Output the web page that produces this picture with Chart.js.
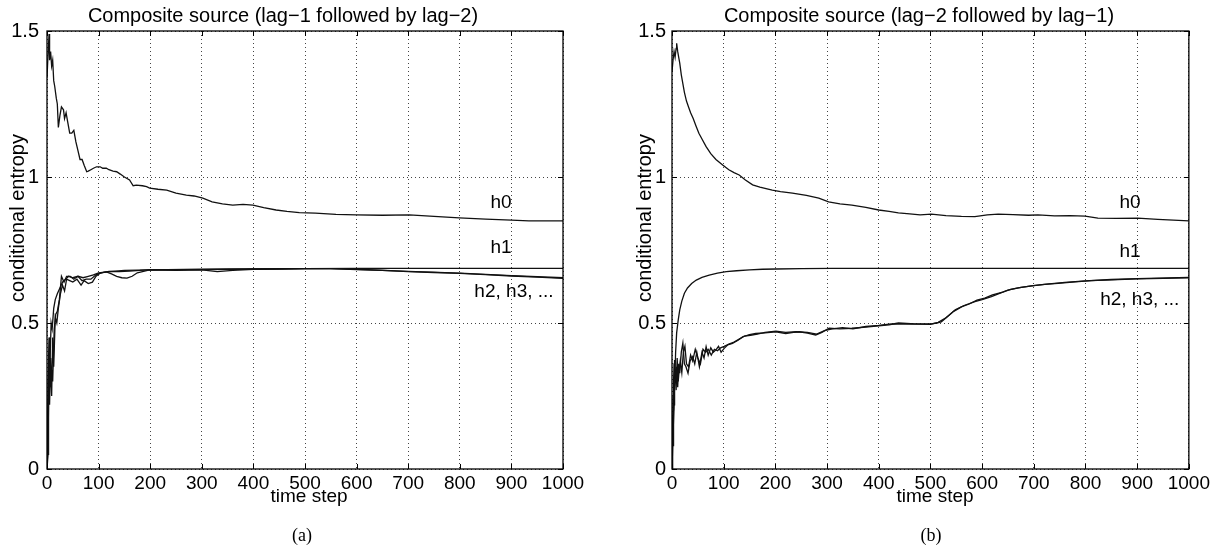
<!DOCTYPE html>
<html>
<head>
<meta charset="utf-8">
<script src="https://cdn.jsdelivr.net/npm/chart.js@4.4.0/dist/chart.umd.min.js"></script>
<style>
  html, body { margin: 0; padding: 0; background: #fff; }
  #wrap { position: relative; width: 1213px; height: 550px; }
  .panel { position: absolute; top: 0; height: 550px; }
  #panelA { left: 0; width: 606px; }
  #panelB { left: 606px; width: 607px; }
</style>
</head>
<body>
<div id="wrap">
  <div class="panel" id="panelA"><canvas id="chartA" width="606" height="550"></canvas></div>
  <div class="panel" id="panelB"><canvas id="chartB" width="607" height="550"></canvas></div>
</div>
<script>
// Tick values and labels
const xTickValues = [0, 100, 200, 300, 400, 500, 600, 700, 800, 900, 1000];
const yTickValues = [0, 0.5, 1, 1.5];
const yTickLabels = ['0', '0.5', '1', '1.5'];

// (a) lag-1 followed by lag-2
const leftH0Steps = [0, 2, 4, 5, 7, 9, 11, 13, 15, 18, 20, 22, 25, 28, 32, 34, 37, 40, 44, 48, 52, 56, 60, 64, 68, 72, 77, 80, 85, 90, 96, 103, 108, 115, 120, 128, 135, 142, 150, 160, 167, 173, 185, 193, 199, 215, 232, 250, 270, 285, 302, 320, 340, 360, 380, 399, 420, 444, 465, 489, 520, 560, 599, 650, 702, 750, 799, 850, 900, 934, 970, 1000];
const leftH0 = [1.34, 1.42, 1.49, 1.40, 1.43, 1.38, 1.40, 1.33, 1.31, 1.27, 1.25, 1.17, 1.21, 1.24, 1.23, 1.20, 1.22, 1.19, 1.15, 1.15, 1.16, 1.12, 1.09, 1.06, 1.06, 1.04, 1.018, 1.02, 1.025, 1.03, 1.035, 1.035, 1.03, 1.03, 1.025, 1.02, 1.018, 1.01, 1.0, 0.99, 0.97, 0.972, 0.97, 0.967, 0.962, 0.958, 0.955, 0.945, 0.938, 0.935, 0.928, 0.915, 0.908, 0.904, 0.906, 0.904, 0.895, 0.887, 0.882, 0.878, 0.876, 0.872, 0.870, 0.869, 0.870, 0.865, 0.860, 0.856, 0.852, 0.850, 0.850, 0.850];

const leftH1Steps = [0, 2, 4, 6, 8, 10, 13, 16, 20, 25, 30, 36, 42, 50, 60, 70, 80, 90, 100, 120, 150, 200, 300, 400, 500, 600, 700, 800, 900, 1000];
const leftH1 = [0.0, 0.30, 0.45, 0.38, 0.50, 0.48, 0.55, 0.58, 0.60, 0.62, 0.64, 0.65, 0.66, 0.655, 0.66, 0.655, 0.66, 0.665, 0.672, 0.676, 0.680, 0.682, 0.684, 0.685, 0.686, 0.687, 0.687, 0.687, 0.687, 0.687];

const leftH2Steps = [0, 2, 4, 5, 7, 9, 11, 13, 16, 19, 22, 26, 30, 34, 38, 44, 50, 58, 66, 72, 80, 88, 95, 103, 115, 125, 135, 145, 155, 165, 175, 185, 199, 250, 300, 330, 360, 400, 450, 500, 550, 600, 650, 700, 750, 800, 850, 900, 950, 1000];
const leftH2 = [0.0, 0.10, 0.35, 0.22, 0.38, 0.25, 0.45, 0.35, 0.52, 0.50, 0.55, 0.60, 0.63, 0.61, 0.65, 0.645, 0.64, 0.65, 0.63, 0.645, 0.635, 0.64, 0.66, 0.671, 0.675, 0.668, 0.66, 0.655, 0.654, 0.660, 0.672, 0.676, 0.682, 0.680, 0.682, 0.676, 0.680, 0.684, 0.685, 0.686, 0.686, 0.683, 0.680, 0.676, 0.673, 0.670, 0.666, 0.661, 0.657, 0.653];

const leftH3Steps = [0, 2, 3, 5, 7, 9, 11, 14, 17, 20, 24, 28, 33, 38, 45, 52, 60, 68, 76, 85, 95, 105, 120, 140, 160, 180, 200, 250, 300, 350, 400, 500, 550, 600, 700, 800, 900, 1000];
const leftH3 = [0.0, 0.05, 0.30, 0.45, 0.28, 0.34, 0.30, 0.48, 0.53, 0.54, 0.58, 0.66, 0.64, 0.66, 0.66, 0.65, 0.66, 0.645, 0.65, 0.65, 0.665, 0.672, 0.677, 0.676, 0.678, 0.680, 0.683, 0.682, 0.683, 0.684, 0.685, 0.686, 0.686, 0.684, 0.677, 0.671, 0.662, 0.655];

// (b) lag-2 followed by lag-1
const rightH0Steps = [0, 2, 4, 6, 8, 9, 11, 13, 15, 18, 21, 24, 28, 32, 36, 41, 47, 52, 58, 66, 75, 85, 98, 110, 120, 130, 142, 156, 170, 182, 194, 210, 233, 260, 284, 303, 325, 348, 375, 400, 420, 438, 460, 480, 502, 530, 560, 586, 610, 631, 660, 690, 708, 740, 770, 799, 824, 860, 901, 940, 970, 1000];
const rightH0 = [1.36, 1.40, 1.43, 1.41, 1.44, 1.458, 1.43, 1.41, 1.39, 1.35, 1.32, 1.29, 1.26, 1.24, 1.22, 1.20, 1.172, 1.15, 1.13, 1.104, 1.08, 1.06, 1.041, 1.025, 1.015, 1.007, 0.99, 0.973, 0.965, 0.960, 0.955, 0.950, 0.945, 0.937, 0.928, 0.915, 0.908, 0.904, 0.896, 0.887, 0.882, 0.877, 0.874, 0.870, 0.873, 0.868, 0.865, 0.864, 0.870, 0.873, 0.871, 0.869, 0.870, 0.867, 0.868, 0.866, 0.859, 0.858, 0.859, 0.855, 0.852, 0.850];

const rightH1Steps = [0, 2, 4, 5, 7, 9, 12, 15, 19, 24, 30, 38, 47, 58, 72, 88, 105, 125, 150, 175, 201, 250, 310, 400, 500, 600, 700, 800, 900, 1000];
const rightH1 = [0.0, 0.12, 0.22, 0.28, 0.40, 0.466, 0.51, 0.545, 0.575, 0.602, 0.620, 0.635, 0.647, 0.656, 0.664, 0.671, 0.676, 0.679, 0.682, 0.684, 0.685, 0.686, 0.687, 0.687, 0.687, 0.687, 0.687, 0.687, 0.687, 0.687];

const rightH2Steps = [0, 1, 2, 3, 4, 5, 7, 9, 11, 13, 15, 18, 21, 24, 27, 31, 35, 40, 44, 48, 53, 58, 62, 66, 70, 75, 80, 85, 90, 95, 101, 108, 117, 127, 137, 150, 162, 180, 201, 220, 235, 246, 262, 278, 290, 304, 325, 348, 375, 400, 420, 438, 470, 502, 512, 521, 535, 548, 565, 586, 600, 618, 635, 650, 670, 695, 720, 747, 780, 811, 850, 901, 950, 1000];
const rightH2 = [0.0, 0.18, 0.08, 0.30, 0.36, 0.373, 0.30, 0.35, 0.28, 0.36, 0.328, 0.40, 0.431, 0.36, 0.35, 0.328, 0.37, 0.385, 0.36, 0.40, 0.35, 0.40, 0.38, 0.419, 0.39, 0.415, 0.40, 0.408, 0.42, 0.40, 0.413, 0.425, 0.430, 0.440, 0.453, 0.460, 0.464, 0.466, 0.470, 0.464, 0.468, 0.470, 0.465, 0.459, 0.468, 0.482, 0.480, 0.482, 0.486, 0.490, 0.494, 0.500, 0.497, 0.497, 0.500, 0.504, 0.525, 0.545, 0.560, 0.573, 0.580, 0.590, 0.602, 0.613, 0.620, 0.627, 0.632, 0.636, 0.641, 0.645, 0.648, 0.651, 0.653, 0.655];

const rightH3Steps = [0, 1, 2, 3, 4, 6, 8, 10, 12, 14, 16, 19, 22, 25, 28, 32, 36, 40, 45, 50, 55, 60, 65, 70, 76, 82, 88, 94, 101, 110, 120, 130, 140, 152, 165, 180, 201, 220, 240, 262, 280, 295, 310, 330, 350, 375, 400, 420, 440, 470, 500, 515, 530, 545, 560, 575, 590, 605, 620, 640, 655, 675, 700, 730, 760, 800, 850, 900, 1000];
const rightH3 = [0.0, 0.10, 0.25, 0.20, 0.31, 0.33, 0.27, 0.38, 0.30, 0.34, 0.37, 0.33, 0.40, 0.42, 0.36, 0.35, 0.39, 0.37, 0.41, 0.38, 0.36, 0.41, 0.40, 0.41, 0.39, 0.41, 0.405, 0.415, 0.42, 0.428, 0.435, 0.445, 0.455, 0.458, 0.462, 0.468, 0.472, 0.468, 0.470, 0.468, 0.462, 0.474, 0.480, 0.484, 0.480, 0.488, 0.492, 0.496, 0.497, 0.496, 0.495, 0.502, 0.518, 0.540, 0.555, 0.565, 0.578, 0.585, 0.596, 0.606, 0.615, 0.622, 0.628, 0.634, 0.639, 0.644, 0.649, 0.652, 0.656];

const FONT = '"Liberation Sans", Arial, Helvetica, sans-serif';

function toPoints(steps, values) {
    return steps.map((s, i) => ({ x: s, y: values[i] }));
}

// Frame, inward ticks and the texts around each panel
const panelPlugin = {
    id: 'panelText',
    afterDatasetsDraw(chart, args, opts) {
        const ctx = chart.ctx;
        const a = chart.chartArea;
        const sx = chart.scales.x;
        const sy = chart.scales.y;
        ctx.save();

        ctx.strokeStyle = '#000';
        ctx.lineWidth = 1.3;
        ctx.strokeRect(a.left, a.top, a.right - a.left, a.bottom - a.top);

        ctx.lineWidth = 1;
        ctx.beginPath();
        xTickValues.forEach(v => {
            const px = Math.round(sx.getPixelForValue(v)) + 0.5;
            ctx.moveTo(px, a.bottom); ctx.lineTo(px, a.bottom - 5);
            ctx.moveTo(px, a.top); ctx.lineTo(px, a.top + 5);
        });
        yTickValues.forEach(v => {
            const py = Math.round(sy.getPixelForValue(v)) + 0.5;
            ctx.moveTo(a.left, py); ctx.lineTo(a.left + 5, py);
            ctx.moveTo(a.right, py); ctx.lineTo(a.right - 5, py);
        });
        ctx.stroke();

        ctx.fillStyle = '#000';
        ctx.textAlign = 'center';
        ctx.textBaseline = 'middle';
        ctx.font = '20px ' + FONT;
        ctx.fillText(opts.title, opts.titleX, 16);

        ctx.font = '19px ' + FONT;
        ctx.fillText('time step', opts.xLabelX, 497);
        opts.curveLabels.forEach(l => {
            ctx.fillText(l.text, sx.getPixelForValue(l.x), sy.getPixelForValue(l.y));
        });

        ctx.save();
        ctx.translate(opts.yLabelX, 218);
        ctx.rotate(-Math.PI / 2);
        ctx.font = '20px ' + FONT;
        ctx.fillText('conditional entropy', 0, 0);
        ctx.restore();

        ctx.font = '18px "Liberation Serif", "Times New Roman", serif';
        ctx.fillText(opts.caption, opts.captionX, 536);
        ctx.restore();
    }
};

function createPanel(canvasId, seriesList, panel) {
    const ctx = document.getElementById(canvasId).getContext('2d');

    const chartConfig = {
        type: 'line',
        data: {
            datasets: seriesList.map(s => ({
                label: s.name,
                data: toPoints(s.steps, s.values),
                borderColor: '#111',
                borderWidth: 1.3,
                pointRadius: 0,
                tension: 0,
                fill: false,
            })),
        },
        options: {
            responsive: false,
            animation: false,
            layout: { padding: { top: 31, right: panel.padRight, left: 0, bottom: 0 } },
            scales: {
                x: {
                    type: 'linear',
                    min: 0,
                    max: 1000,
                    afterBuildTicks: scale => { scale.ticks = xTickValues.map(v => ({ value: v })); },
                    afterFit: scale => { scale.height = 81; },
                    grid: { color: '#444', lineWidth: 1, drawTicks: false },
                    border: { display: false, dash: [1, 3] },
                    ticks: {
                        padding: 3,
                        color: '#000',
                        maxRotation: 0,
                        autoSkip: false,
                        font: { family: FONT, size: 19 },
                        callback: v => String(v),
                    },
                },
                y: {
                    type: 'linear',
                    min: 0,
                    max: 1.5,
                    afterBuildTicks: scale => { scale.ticks = yTickValues.map(v => ({ value: v })); },
                    afterFit: scale => { scale.width = panel.axisLeft; },
                    grid: { color: '#444', lineWidth: 1, drawTicks: false },
                    border: { display: false, dash: [1, 3] },
                    ticks: {
                        padding: panel.yPad,
                        color: '#000',
                        font: { family: FONT, size: 20 },
                        callback: (v, i) => yTickLabels[i],
                    },
                },
            },
            plugins: {
                legend: { display: false },
                tooltip: { enabled: false },
                panelText: panel,
            },
        },
        plugins: [panelPlugin],
    };

    new Chart(ctx, chartConfig);
}

createPanel('chartA', [
    { name: 'h0', steps: leftH0Steps, values: leftH0 },
    { name: 'h1', steps: leftH1Steps, values: leftH1 },
    { name: 'h2', steps: leftH2Steps, values: leftH2 },
    { name: 'h3', steps: leftH3Steps, values: leftH3 },
], {
    axisLeft: 47, padRight: 43, yPad: 8,
    title: 'Composite source (lag\u22121 followed by lag\u22122)', titleX: 283,
    xLabelX: 309, yLabelX: 18, caption: '(a)', captionX: 302,
    curveLabels: [
        { text: 'h0', x: 880, y: 0.911 },
        { text: 'h1', x: 880, y: 0.757 },
        { text: 'h2, h3, ...', x: 905, y: 0.606 },
    ],
});

createPanel('chartB', [
    { name: 'h0', steps: rightH0Steps, values: rightH0 },
    { name: 'h1', steps: rightH1Steps, values: rightH1 },
    { name: 'h2', steps: rightH2Steps, values: rightH2 },
    { name: 'h3', steps: rightH3Steps, values: rightH3 },
], {
    axisLeft: 66, padRight: 22, yPad: 6,
    title: 'Composite source (lag\u22122 followed by lag\u22121)', titleX: 313,
    xLabelX: 329, yLabelX: 39, caption: '(b)', captionX: 325,
    curveLabels: [
        { text: 'h0', x: 886, y: 0.911 },
        { text: 'h1', x: 886, y: 0.743 },
        { text: 'h2, h3, ...', x: 905, y: 0.579 },
    ],
});
</script>
</body>
</html>
